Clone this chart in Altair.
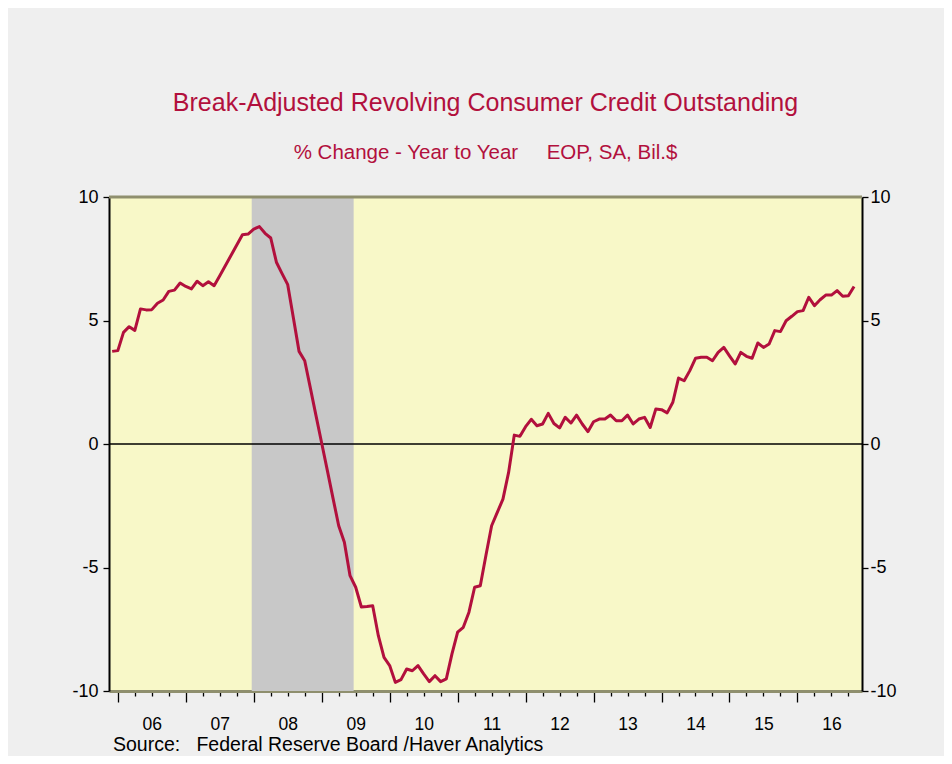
import altair as alt
import pandas as pd

# ---------------- data ----------------
START_YEAR = 2005
START_MONTH = 12  # first observation: Dec 2005, monthly thereafter
growth = [
    3.75, 3.78, 4.52, 4.75, 4.60, 5.47, 5.43, 5.44, 5.70, 5.83, 6.18, 6.23,
    6.52, 6.38, 6.28, 6.59, 6.41, 6.57, 6.41, 6.81, 7.23, 7.64, 8.06, 8.47,
    8.50, 8.70, 8.80, 8.53, 8.34, 7.36, 6.90, 6.45, 5.10, 3.75, 3.37, 2.26,
    1.14, 0.03, -1.08, -2.20, -3.31, -3.98, -5.33, -5.80, -6.60, -6.58, -6.55, -7.76,
    -8.64, -8.97, -9.65, -9.54, -9.11, -9.18, -8.97, -9.31, -9.62, -9.38, -9.62, -9.51,
    -8.50, -7.62, -7.42, -6.81, -5.80, -5.74, -4.50, -3.31, -2.77, -2.23, -1.15, 0.36,
    0.31, 0.70, 1.00, 0.74, 0.81, 1.24, 0.83, 0.65, 1.08, 0.85, 1.17, 0.81,
    0.50, 0.90, 1.01, 1.01, 1.17, 0.94, 0.94, 1.17, 0.81, 1.01, 1.08, 0.67,
    1.42, 1.39, 1.26, 1.69, 2.67, 2.56, 2.97, 3.47, 3.51, 3.51, 3.37, 3.71,
    3.91, 3.57, 3.24, 3.71, 3.55, 3.47, 4.09, 3.91, 4.05, 4.59, 4.55, 4.99,
    5.17, 5.36, 5.40, 5.94, 5.60, 5.84, 6.03, 6.03, 6.21, 5.98, 6.00, 6.38,
]
recession_start = [2007.97]
recession_end = [2009.47]
x_domain = [2005.87, 2016.95]
y_ticks = [-10, -5, 0, 5, 10]
quarter_ticks = [2006 + q / 4 for q in range(44)]  # 2006.00 ... 2016.75

NB = "\u00a0"
TITLE = "Break-Adjusted Revolving Consumer Credit Outstanding"
SUBTITLE = "% Change - Year to Year" + NB * 5 + "EOP, SA, Bil.$"
SOURCE = "Source:" + NB * 3 + "Federal Reserve Board /Haver Analytics"

# ---------------- tables ----------------
t = [START_YEAR + (START_MONTH - 1 + i) / 12 for i in range(len(growth))]
df = pd.DataFrame({"t": t, "v": growth})
rec = pd.DataFrame({"s": recession_start, "e": recession_end})
zero = pd.DataFrame({"z": [0]})
src = pd.DataFrame({"s": [SOURCE]})

# ---------------- style ----------------
W, H = 753, 494
FONT = "Liberation Sans, Arial, sans-serif"
RED = "#b2103d"
OLIVE = "#8f8f6e"

xscale = alt.Scale(domain=x_domain, nice=False, zero=False)
yscale = alt.Scale(domain=[-10, 10], nice=False, zero=False)

x_axis = alt.Axis(
    values=quarter_ticks,
    labelExpr="datum.value % 1 === 0.5 ? format(floor(datum.value) % 100, '02d') : ''",
    tickSize={"condition": {"test": "datum.value % 1 === 0", "value": 11}, "value": 5},
    tickColor="black", tickWidth=1.3,
    domainColor=OLIVE, domainWidth=3,
    labelFont=FONT, labelFontSize=17.5, labelColor="black",
    labelPadding=19, labelOverlap=False, labelFlush=False,
    grid=False, title=None,
)

def y_axis(orient):
    return alt.Axis(
        orient=orient, values=y_ticks, tickSize=6, tickColor="black", tickWidth=1.3,
        domainColor="black", domainWidth=2,
        labelExpr="toString(datum.value)",
        labelFont=FONT, labelFontSize=18, labelColor="black",
        labelPadding=5 if orient == "left" else 2,
        labelFlush=False, grid=False, title=None,
    )

recession = alt.Chart(rec).mark_rect(color="#c8c8c8").encode(
    x=alt.X("s:Q", scale=xscale, axis=x_axis), x2="e:Q"
)

zero_line = alt.Chart(zero).mark_rule(color="black", strokeWidth=1.5).encode(
    y=alt.Y("z:Q", scale=yscale, axis=y_axis("right"))
)

line = alt.Chart(df).mark_line(color=RED, strokeWidth=3, strokeJoin="round").encode(
    x=alt.X("t:Q", scale=xscale, axis=x_axis),
    y=alt.Y("v:Q", scale=yscale, axis=y_axis("left")),
)

top_border = alt.Chart(zero).mark_rule(color=OLIVE, strokeWidth=3).encode(
    x=alt.value(0), x2=alt.value(W), y=alt.value(0)
)

source = alt.Chart(src).mark_text(
    align="left", baseline="middle", font=FONT, fontSize=19.5, color="black"
).encode(x=alt.value(4), y=alt.value(548), text="s:N")

chart = (
    alt.layer(recession, zero_line, line, top_border, source)
    .resolve_axis(y="independent")
    .properties(
        width=W, height=H,
        autosize=alt.AutoSizeParams(type="none"),
        padding={"left": 101, "top": 189, "right": 82, "bottom": 65},
        background="#efefef",
        title=alt.TitleParams(
            text=TITLE, subtitle=SUBTITLE, anchor="middle", frame="group",
            font=FONT, fontSize=25, fontWeight="normal", color=RED,
            subtitleFont=FONT, subtitleFontSize=20.5, subtitleColor=RED,
            subtitlePadding=27, offset=25,
        ),
    )
    .configure_view(fill="#f8f8c8", strokeWidth=0)
)

chart.save("out.html", embed_options={"renderer": "svg", "actions": False})
